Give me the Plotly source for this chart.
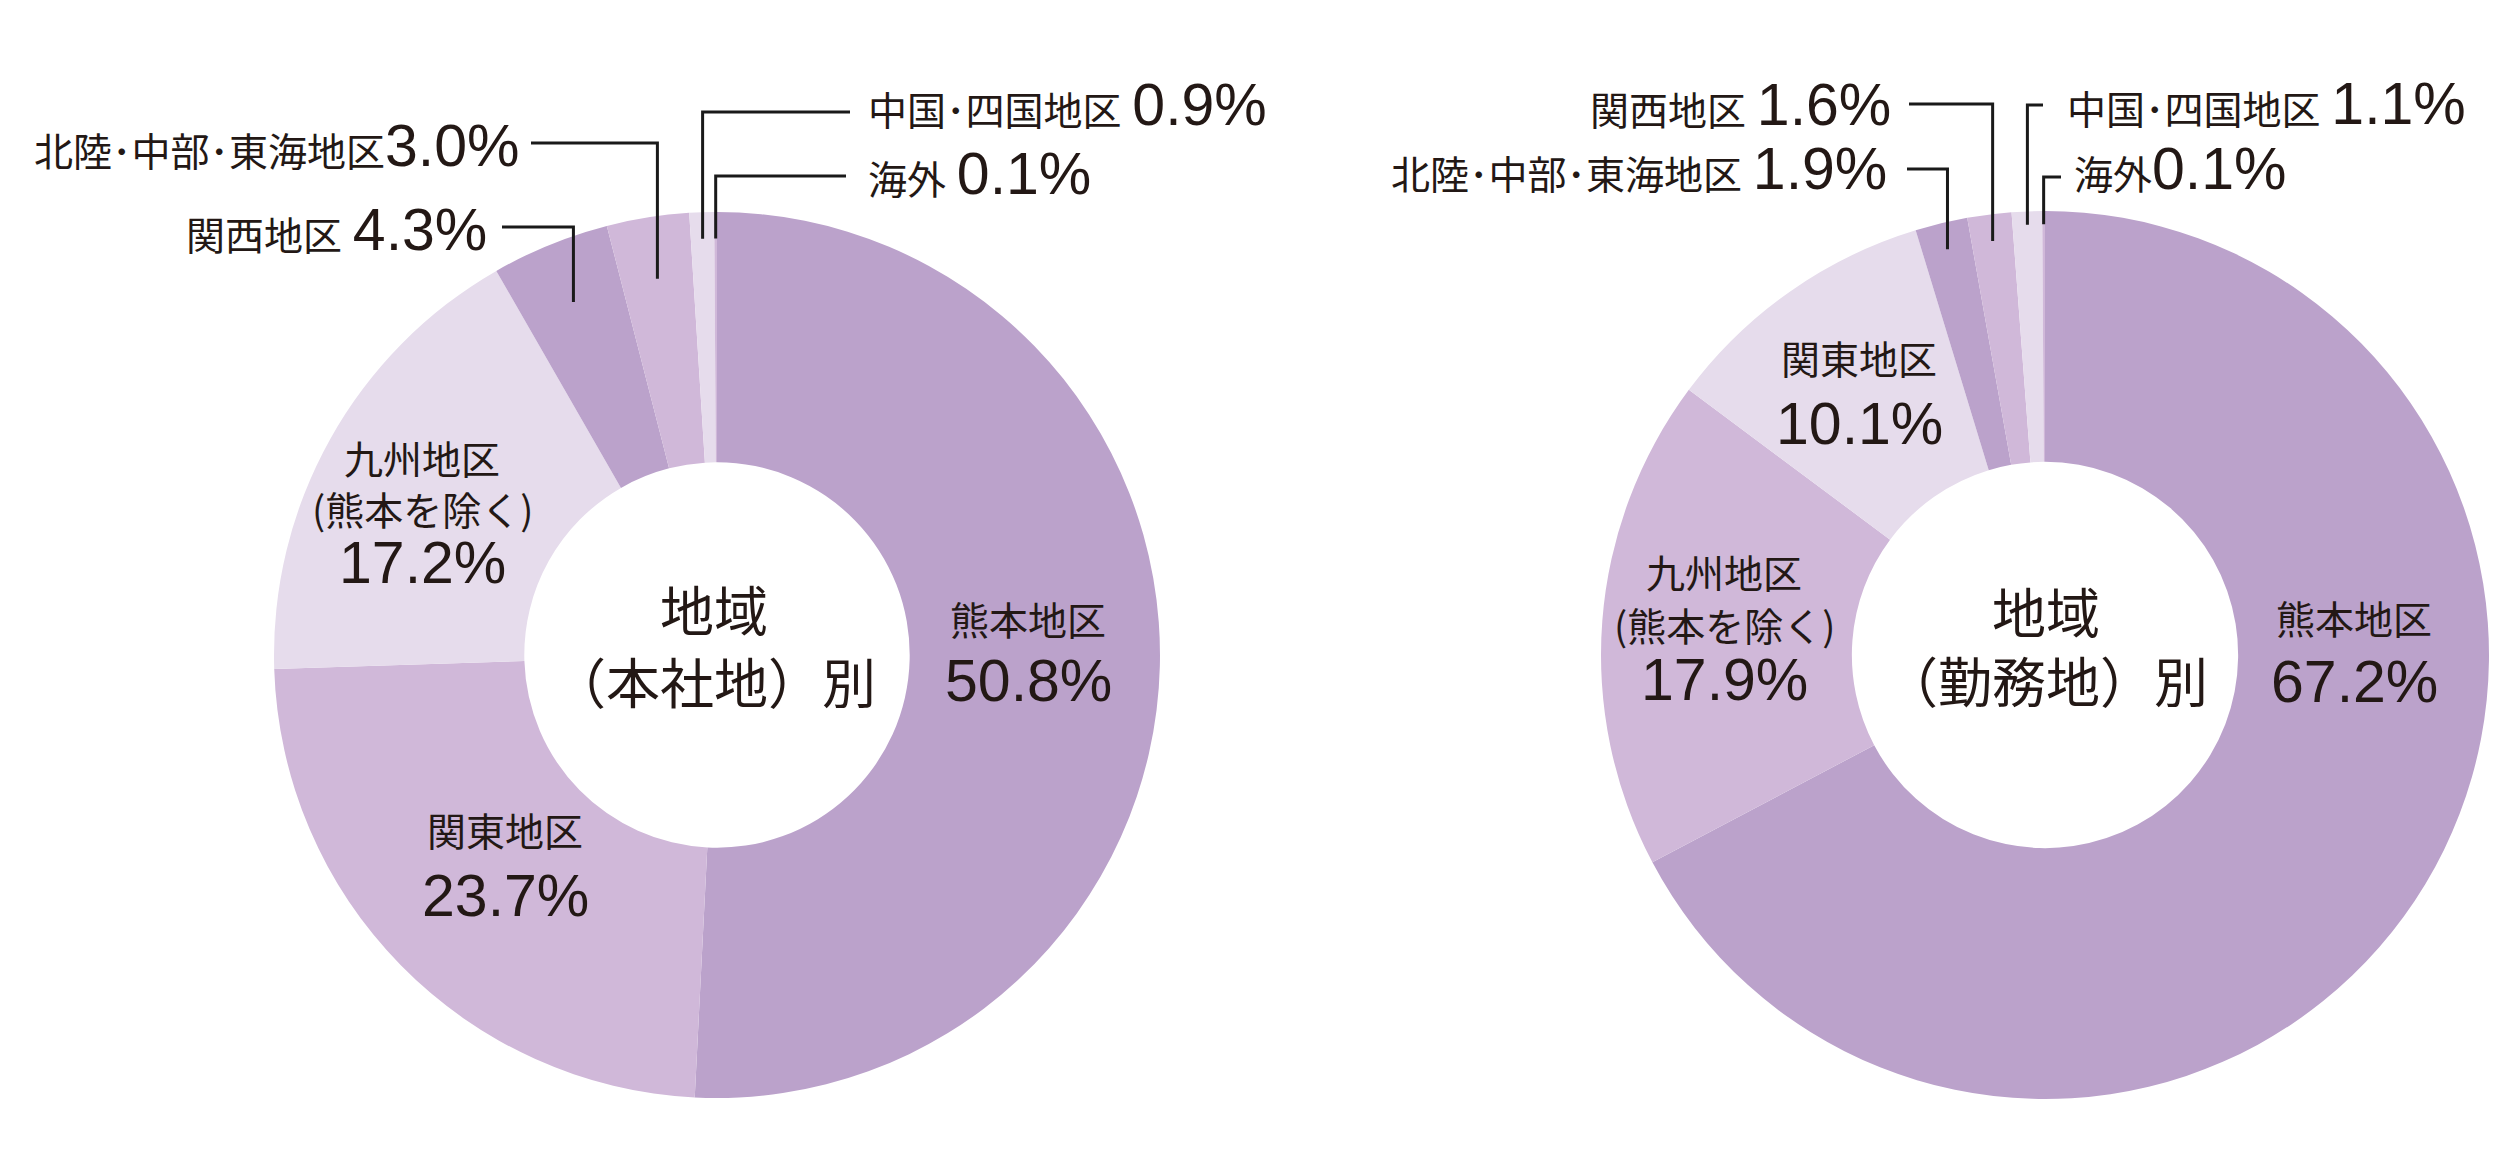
import math
import plotly.graph_objects as go

# ---------------- data ----------------
hq_regions = ["熊本地区", "関東地区", "九州地区（熊本を除く）", "関西地区",
              "北陸･中部･東海地区", "中国･四国地区", "海外"]
hq_values = [50.8, 23.7, 17.2, 4.3, 3.0, 0.9, 0.1]

work_regions = ["熊本地区", "九州地区（熊本を除く）", "関東地区", "北陸･中部･東海地区",
                "関西地区", "中国･四国地区", "海外"]
work_values = [67.2, 17.9, 10.1, 1.9, 1.6, 1.1, 0.1]

center_titles = [["地域", "（本社地）別"], ["地域", "（勤務地）別"]]

# ---------------- style ----------------
W, H = 2500, 1175
DARK, MID, LIGHT = "#BBA2CB", "#D0B8D9", "#E6DCEC"
TXT = "#231815"
LINE = "#1a1a1a"
FONT = "Liberation Sans, Noto Sans CJK JP"
JP_SIZE = 39
NUM_SIZE = 59
CENTER_SIZE = 54

hq_colors = [DARK, MID, LIGHT, DARK, MID, LIGHT, MID]
work_colors = [DARK, MID, LIGHT, DARK, MID, LIGHT, MID]

# pie geometry (pixel centre, radius)
pies = [
    dict(regions=hq_regions, values=hq_values, colors=hq_colors, cx=717, cy=655, R=443,
         title=center_titles[0], title_pos=(714, [613, 685])),
    dict(regions=work_regions, values=work_values, colors=work_colors, cx=2045, cy=655, R=444,
         title=center_titles[1], title_pos=(2046, [615, 684])),
]

# inside label layout: region index -> (x, [y per line])
inside_layout = [
    {0: (1028, [621, 681]), 1: (505, [832, 896]), 2: (422, [460, 508, 563])},
    {0: (2354, [620, 682]), 2: (1859, [361, 424]), 1: (1724, [575, 624, 680])},
]
# outside callouts: (index, side, text_x, text_y, line_y, line_x_outer, radius fraction, gap)
callouts = [
    [(4, "left", 522, 146, 143, 531, 0.86, ""),
     (3, "left", 489, 230, 227, 502, 0.86, " "),
     (5, "right", 866, 105, 112, 850, 0.94, " "),
     (6, "right", 866, 174, 176, 846, 0.94, " ")],
    [(4, "left", 1893, 105, 104, 1909, 0.94, " "),
     (3, "left", 1889, 169, 169, 1907, 0.94, " "),
     (5, "right", 2065, 104, 105, 2043, 0.97, " "),
     (6, "right", 2072, 169, 177, 2061, 0.97, "")],
]


def px(x):
    return x / W


def py(y):
    return 1 - y / H


def slice_point(values, i, cx, cy, R, frac):
    total = sum(values)
    cum = sum(values[:i]) + values[i] / 2
    ang = math.radians(cum / total * 360)
    return cx + frac * R * math.sin(ang), cy - frac * R * math.cos(ang)


def text_ann(x, y, text, size, xanchor="center"):
    return dict(x=px(x), y=py(y), xref="paper", yref="paper", showarrow=False,
                text=text, font=dict(family=FONT, size=size, color=TXT),
                xanchor=xanchor, yanchor="middle")


fig = go.Figure()
annotations = []
shapes = []

for k, p in enumerate(pies):
    cx, cy, R = p["cx"], p["cy"], p["R"]
    fig.add_trace(go.Pie(
        labels=p["regions"], values=p["values"],
        marker=dict(colors=p["colors"], line=dict(width=0)),
        hole=0.435, sort=False, direction="clockwise", rotation=0,
        textinfo="none", hoverinfo="label+percent", showlegend=False,
        domain=dict(x=[px(cx - R), px(cx + R)], y=[py(cy + R), py(cy - R)]),
    ))
    # centre title
    tx, tys = p["title_pos"]
    for t, y in zip(p["title"], tys):
        annotations.append(text_ann(tx, y, t, CENTER_SIZE))
    # inside labels
    for idx, (x, ys) in inside_layout[k].items():
        name = p["regions"][idx]
        if "（" in name:
            a, b = name.split("（", 1)
            lines = [a, "(" + b.replace("）", ")")]
        else:
            lines = [name]
        lines.append(f"{p['values'][idx]:.1f}%")
        for j, (t, y) in enumerate(zip(lines, ys)):
            size = NUM_SIZE if j == len(lines) - 1 else JP_SIZE
            ann = text_ann(x, y, t, size)
            if j == 1 and len(lines) == 3:
                ann["font"]["family"] = "Noto Sans CJK JP"
            annotations.append(ann)
    # outside callouts
    for (idx, side, tx, ty, ly, lx, frac, gap) in callouts[k]:
        name = p["regions"][idx]
        val = p["values"][idx]
        text = f"{name}{gap}<span style='font-size:{NUM_SIZE}px'>{val:.1f}%</span>"
        annotations.append(text_ann(tx, ty, text, JP_SIZE,
                                    xanchor="right" if side == "left" else "left"))
        ex, ey = slice_point(p["values"], idx, cx, cy, R, frac)
        path = f"M {px(lx)},{py(ly)} L {px(ex)},{py(ly)} L {px(ex)},{py(ey)}"
        shapes.append(dict(type="path", xref="paper", yref="paper", path=path,
                           line=dict(color=LINE, width=3)))

fig.update_layout(
    width=W, height=H,
    margin=dict(l=0, r=0, t=0, b=0),
    paper_bgcolor="white", plot_bgcolor="white",
    annotations=annotations, shapes=shapes,
)

fig.write_html("out.html", config={"displayModeBar": False},
               post_script="document.body.style.margin='0';")
